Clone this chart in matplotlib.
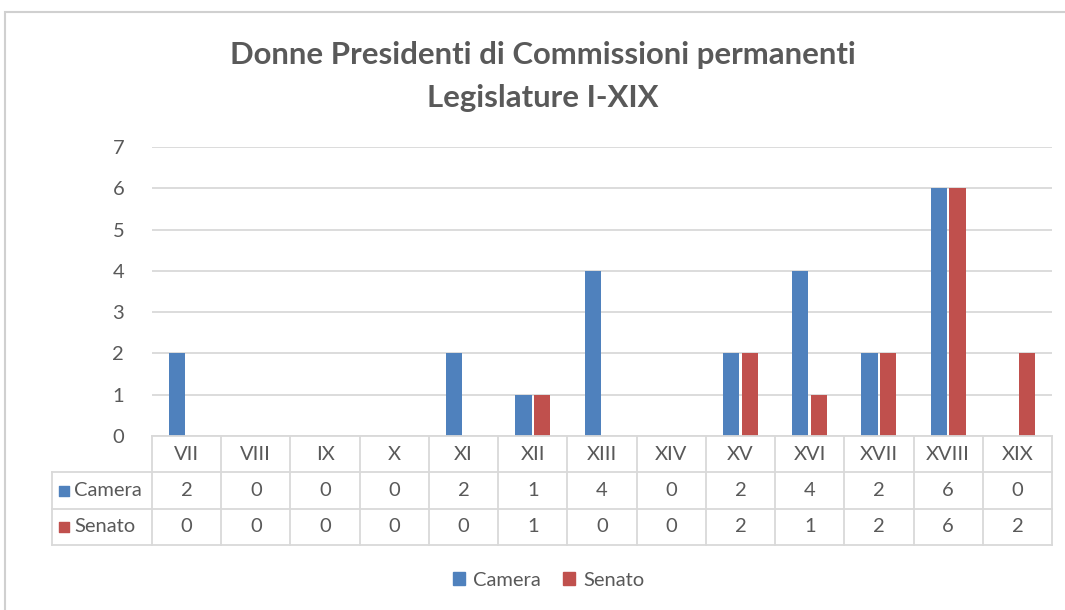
import matplotlib.pyplot as plt
import numpy as np
from matplotlib.patches import Rectangle

legislature = ["VII", "VIII", "IX", "X", "XI", "XII", "XIII", "XIV", "XV", "XVI", "XVII", "XVIII", "XIX"]
camera = [2, 0, 0, 0, 2, 1, 4, 0, 2, 4, 2, 6, 0]
senato = [0, 0, 0, 0, 0, 1, 0, 0, 2, 1, 2, 6, 2]
series_names = ["Camera", "Senato"]

blue = "#4F81BD"
red = "#C0504D"
grid_color = "#D9D9D9"
text_color = "#595959"

plt.rcParams["font.family"] = ["Lato", "DejaVu Sans"]

W, H = 1065, 610
fig = plt.figure(figsize=(W / 100, H / 100), dpi=100)


def px_box(x0, y0, x1, y1):
    return [x0 / W, 1 - y1 / H, (x1 - x0) / W, (y1 - y0) / H]


# outer chart frame (only top/left visible)
fig.patches.append(Rectangle((5 / W, -0.1), 1.2, 1 - 12 / H + 0.1, transform=fig.transFigure,
                             fill=False, edgecolor="#D0D0D0", linewidth=1.5))

ax = fig.add_axes(px_box(152, 147, 1052, 436))
x = np.arange(len(legislature))
width = 0.235
ax.bar(x - 0.135, camera, width, color=blue, zorder=3)
ax.bar(x + 0.135, senato, width, color=red, zorder=3)
ax.set_xlim(-0.5, len(legislature) - 0.5)
ax.set_ylim(0, 7)
ax.set_yticks(range(0, 8))
ax.yaxis.grid(True, color=grid_color, linewidth=1.3)
ax.set_axisbelow(True)
ax.set_xticks([])
for side in ["top", "right", "left", "bottom"]:
    ax.spines[side].set_visible(False)
ax.tick_params(axis="y", length=0, pad=20, labelsize=14.5, labelcolor=text_color)

# data table
col_px = 900 / len(legislature)
tax = fig.add_axes(px_box(52, 436, 1052, 545))
left_units = 100 / col_px
tax.set_xlim(-0.5 - left_units, len(legislature) - 0.5)
tax.set_ylim(0, 3)
tax.axis("off")
lw = 1.3
# horizontal lines
tax.plot([-0.5, len(legislature) - 0.5], [3, 3], color=grid_color, lw=lw, clip_on=False)
for yy in [2, 1, 0]:
    tax.plot([-0.5 - left_units, len(legislature) - 0.5], [yy, yy], color=grid_color, lw=lw, clip_on=False)
# vertical lines
for i in range(len(legislature) + 1):
    tax.plot([i - 0.5, i - 0.5], [0, 3], color=grid_color, lw=lw, clip_on=False)
tax.plot([-0.5 - left_units] * 2, [0, 2], color=grid_color, lw=lw, clip_on=False)

fs = 14.5
for i, lab in enumerate(legislature):
    tax.text(i, 2.5, lab, ha="center", va="center", fontsize=fs, color=text_color)
    tax.text(i, 1.5, str(camera[i]), ha="center", va="center", fontsize=fs, color=text_color)
    tax.text(i, 0.5, str(senato[i]), ha="center", va="center", fontsize=fs, color=text_color)

for row_y, name, col in [(1.5, series_names[0], blue), (0.5, series_names[1], red)]:
    tax.scatter([-0.5 - left_units + 0.18], [row_y], marker="s", s=60, color=col, clip_on=False)
    tax.text(-0.5 - left_units + 0.32, row_y, name, ha="left", va="center", fontsize=fs, color=text_color)

# title
fig.text(543 / W, 1 - 55 / H, "Donne Presidenti di Commissioni permanenti", ha="center", va="center",
         fontsize=22.4, fontweight="bold", color=text_color)
fig.text(543 / W, 1 - 98 / H, "Legislature I-XIX", ha="center", va="center",
         fontsize=22.4, fontweight="bold", color=text_color)

# legend
handles = [Rectangle((0, 0), 1, 1, color=blue), Rectangle((0, 0), 1, 1, color=red)]
fig.legend(handles, series_names, loc="center", bbox_to_anchor=(549 / W, 1 - 580 / H), ncol=2,
           frameon=False, fontsize=fs, labelcolor=text_color, handlelength=0.6, handleheight=0.6,
           handletextpad=0.4, columnspacing=1.1)

fig.savefig("out.png", dpi=100)
